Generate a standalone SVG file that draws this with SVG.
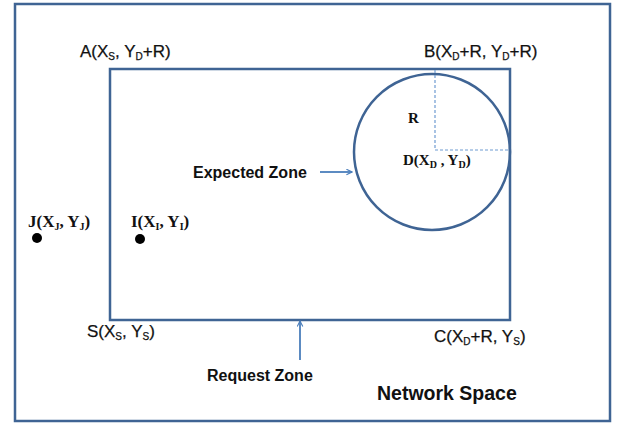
<svg xmlns="http://www.w3.org/2000/svg" width="625" height="426" viewBox="0 0 625 426">
<defs>
<style>
.box{fill:none;stroke:#3f6494;stroke-width:2.5}
.sans{font-family:"Liberation Sans",Arial,sans-serif;fill:#111}
.serif{font-family:"Liberation Serif","Times New Roman",serif;fill:#111;font-weight:bold}
.arr{stroke:#4a7ebb;stroke-width:1.8;fill:none}
.dash{stroke:#6f9bd1;stroke-width:1.2;stroke-dasharray:3,2;fill:none}
.lbl{font-size:17px;stroke:#111;stroke-width:0.25}
.zone{font-size:16px;font-weight:bold}
</style>
<marker id="ah" viewBox="0 0 10 10" refX="9" refY="5" markerWidth="7" markerHeight="7" orient="auto" markerUnits="userSpaceOnUse">
<path d="M1,1 L9,5 L1,9" fill="none" stroke="#4a7ebb" stroke-width="1.6"/>
</marker>
</defs>
<rect width="625" height="426" fill="#fff"/>
<g id="network-space">
<rect class="box" x="15" y="4" width="595" height="417" stroke-width="3"/>
<text class="sans" x="377" y="400" font-size="19.5" font-weight="bold" style="font-weight:600">Network Space</text>
</g>
<g id="request-zone">
<rect class="box" x="110" y="69" width="400" height="251"/>
<text class="sans zone" x="207" y="381">Request Zone</text>
</g>
<g id="expected-zone">
<circle class="box" cx="432" cy="152" r="78"/>
<path class="dash" d="M435,70 V150 H509"/>
<text class="serif" x="408" y="123" font-size="15">R</text>
<text class="serif" x="403" y="165" font-size="15">D(X<tspan font-size="10" dy="3">D</tspan><tspan dy="-3"> , Y</tspan><tspan font-size="10" dy="3">D</tspan><tspan dy="-3">)</tspan></text>
<text class="sans zone" x="193" y="178">Expected Zone</text>
</g>
<g id="labels">
<text class="sans lbl" x="80" y="57">A(X<tspan font-size="10" dy="3">S</tspan><tspan dy="-3">, Y</tspan><tspan font-size="10" dy="3">D</tspan><tspan dy="-3">+R)</tspan></text>
<text class="sans lbl" x="424" y="57">B(X<tspan font-size="10" dy="3">D</tspan><tspan dy="-3">+R, Y</tspan><tspan font-size="10" dy="3">D</tspan><tspan dy="-3">+R)</tspan></text>
<text class="sans lbl" x="87" y="337">S(X<tspan font-size="10" dy="3">S</tspan><tspan dy="-3">, Y</tspan><tspan font-size="10" dy="3">S</tspan><tspan dy="-3">)</tspan></text>
<text class="sans lbl" x="434" y="342">C(X<tspan font-size="10" dy="3">D</tspan><tspan dy="-3">+R, Y</tspan><tspan font-size="10" dy="3">S</tspan><tspan dy="-3">)</tspan></text>
</g>
<g id="node-j">
<circle cx="37" cy="238" r="5" fill="#000"/>
<text class="serif" x="28" y="227" font-size="17">J(X<tspan font-size="10" dy="3">J</tspan><tspan dy="-3">, Y</tspan><tspan font-size="10" dy="3">J</tspan><tspan dy="-3">)</tspan></text>
</g>
<g id="node-i">
<circle cx="140" cy="239" r="5" fill="#000"/>
<text class="serif" x="131" y="227" font-size="17">I(X<tspan font-size="10" dy="3">I</tspan><tspan dy="-3">, Y</tspan><tspan font-size="10" dy="3">I</tspan><tspan dy="-3">)</tspan></text>
</g>
<g id="connectors">
<line class="arr" x1="320" y1="172" x2="352" y2="172" marker-end="url(#ah)"/>
<line class="arr" x1="300" y1="360" x2="300" y2="321" marker-end="url(#ah)"/>
</g>
</svg>
